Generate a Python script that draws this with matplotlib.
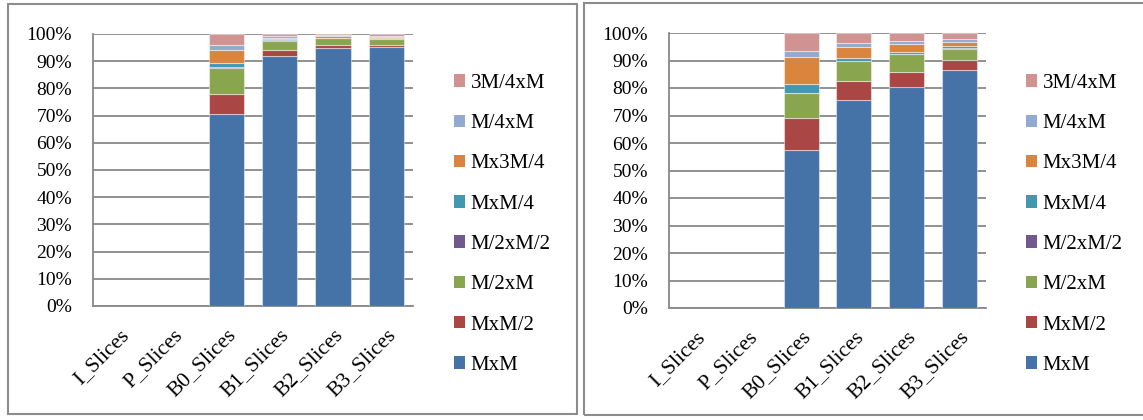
import matplotlib
matplotlib.use("Agg")
import matplotlib.pyplot as plt
from matplotlib.patches import Rectangle, Patch
import numpy as np

plt.rcParams['font.family'] = ['Liberation Serif', 'DejaVu Serif']

categories = ['I_Slices', 'P_Slices', 'B0_Slices', 'B1_Slices', 'B2_Slices', 'B3_Slices']
series = ['MxM', 'MxM/2', 'M/2xM', 'M/2xM/2', 'MxM/4', 'Mx3M/4', 'M/4xM', '3M/4xM']
colors = ['#4572A7', '#AA4643', '#89A54E', '#71588F', '#4198AF', '#DB843D', '#93A9CF', '#D19392']

# left chart (percent)
left_MxM = [0, 0, 70.7, 92.0, 94.9, 95.1]
left_MxM2 = [0, 0, 7.3, 2.3, 1.2, 0.9]
left_M2xM = [0, 0, 9.5, 3.4, 2.3, 2.2]
left_M2xM2 = [0, 0, 0.1, 0.1, 0.1, 0.1]
left_MxM4 = [0, 0, 1.7, 0.3, 0.2, 0.3]
left_Mx3M4 = [0, 0, 4.7, 0.7, 0.6, 0.3]
left_M4xM = [0, 0, 1.7, 0.4, 0.2, 0.5]
left_3M4xM = [0, 0, 4.2, 0.9, 0.5, 0.6]

# right chart (percent)
right_MxM = [0, 0, 57.3, 75.8, 80.4, 86.6]
right_MxM2 = [0, 0, 11.8, 6.9, 5.5, 3.5]
right_M2xM = [0, 0, 9.0, 7.0, 6.5, 4.3]
right_M2xM2 = [0, 0, 0.1, 0.1, 0.1, 0.1]
right_MxM4 = [0, 0, 3.4, 1.2, 0.8, 0.8]
right_Mx3M4 = [0, 0, 9.5, 4.0, 2.9, 1.6]
right_M4xM = [0, 0, 2.2, 1.2, 1.0, 0.9]
right_3M4xM = [0, 0, 6.7, 3.8, 2.9, 2.3]

left_data = [left_MxM, left_MxM2, left_M2xM, left_M2xM2, left_MxM4, left_Mx3M4, left_M4xM, left_3M4xM]
right_data = [right_MxM, right_MxM2, right_M2xM, right_M2xM2, right_MxM4, right_Mx3M4, right_M4xM, right_3M4xM]

W, H = 1143, 420
fig = plt.figure(figsize=(W / 100, H / 100), dpi=100)

# panel frames
fig.patches.append(Rectangle((8 / W, 1 - 414 / H), (577 - 8) / W, (414 - 4) / H,
                             transform=fig.transFigure, fill=False, ec='#8c8c8c', lw=1.5))
fig.patches.append(Rectangle((584 / W, 1 - 415 / H), (1160 - 584) / W, (415 - 3) / H,
                             transform=fig.transFigure, fill=False, ec='#8c8c8c', lw=1.5))

grid_c = '#888888'


def draw(rect, data, leg_x):
    ax = fig.add_axes(rect)
    x = np.arange(len(categories))
    tot = np.sum(np.array(data, dtype=float), axis=0)
    tot[tot == 0] = 1
    bottom = np.zeros(len(categories))
    for vals, c in zip(data, colors):
        v = np.array(vals, dtype=float) / tot * 100
        lw = [0.8 if h > 0 else 0 for h in v]
        ax.bar(x, v, 0.66, bottom=bottom, color=c, edgecolor=(1, 1, 1, 0.45), linewidth=lw, zorder=3)
        bottom += v
    ax.set_xlim(-0.5, len(categories) - 0.5)
    ax.set_ylim(0, 100)
    ax.set_yticks(np.arange(0, 101, 10))
    ax.set_yticklabels([f'{t}%' for t in range(0, 101, 10)])
    ax.yaxis.grid(True, color=grid_c, lw=1.3, zorder=0)
    ax.set_xticks(x)
    ax.set_xticklabels(categories, rotation=45, ha='right', va='top', rotation_mode='anchor')
    ax.tick_params(axis='both', length=0, labelsize=14)
    ax.tick_params(axis='y', pad=15)
    ax.tick_params(axis='x', pad=14, labelsize=15.5)
    for s in ['top', 'right']:
        ax.spines[s].set_visible(False)
    for s in ['left', 'bottom']:
        ax.spines[s].set_color(grid_c)
        ax.spines[s].set_linewidth(1.3)
    handles = [Patch(facecolor=c, label=n) for n, c in zip(series, colors)][::-1]
    fig.legend(handles=handles, loc='upper left', bbox_to_anchor=(leg_x / W, 1 - 74 / H),
               frameon=False, fontsize=15, handlelength=0.55, handleheight=0.55,
               handletextpad=0.25, labelspacing=1.02, borderpad=0, borderaxespad=0)
    return ax


draw([93 / W, 1 - 306 / H, (413 - 93) / W, (306 - 34) / H], left_data, 454)
draw([669 / W, 1 - 308 / H, (986 - 669) / W, (308 - 33) / H], right_data, 1026)

fig.savefig('out.png', dpi=100)
